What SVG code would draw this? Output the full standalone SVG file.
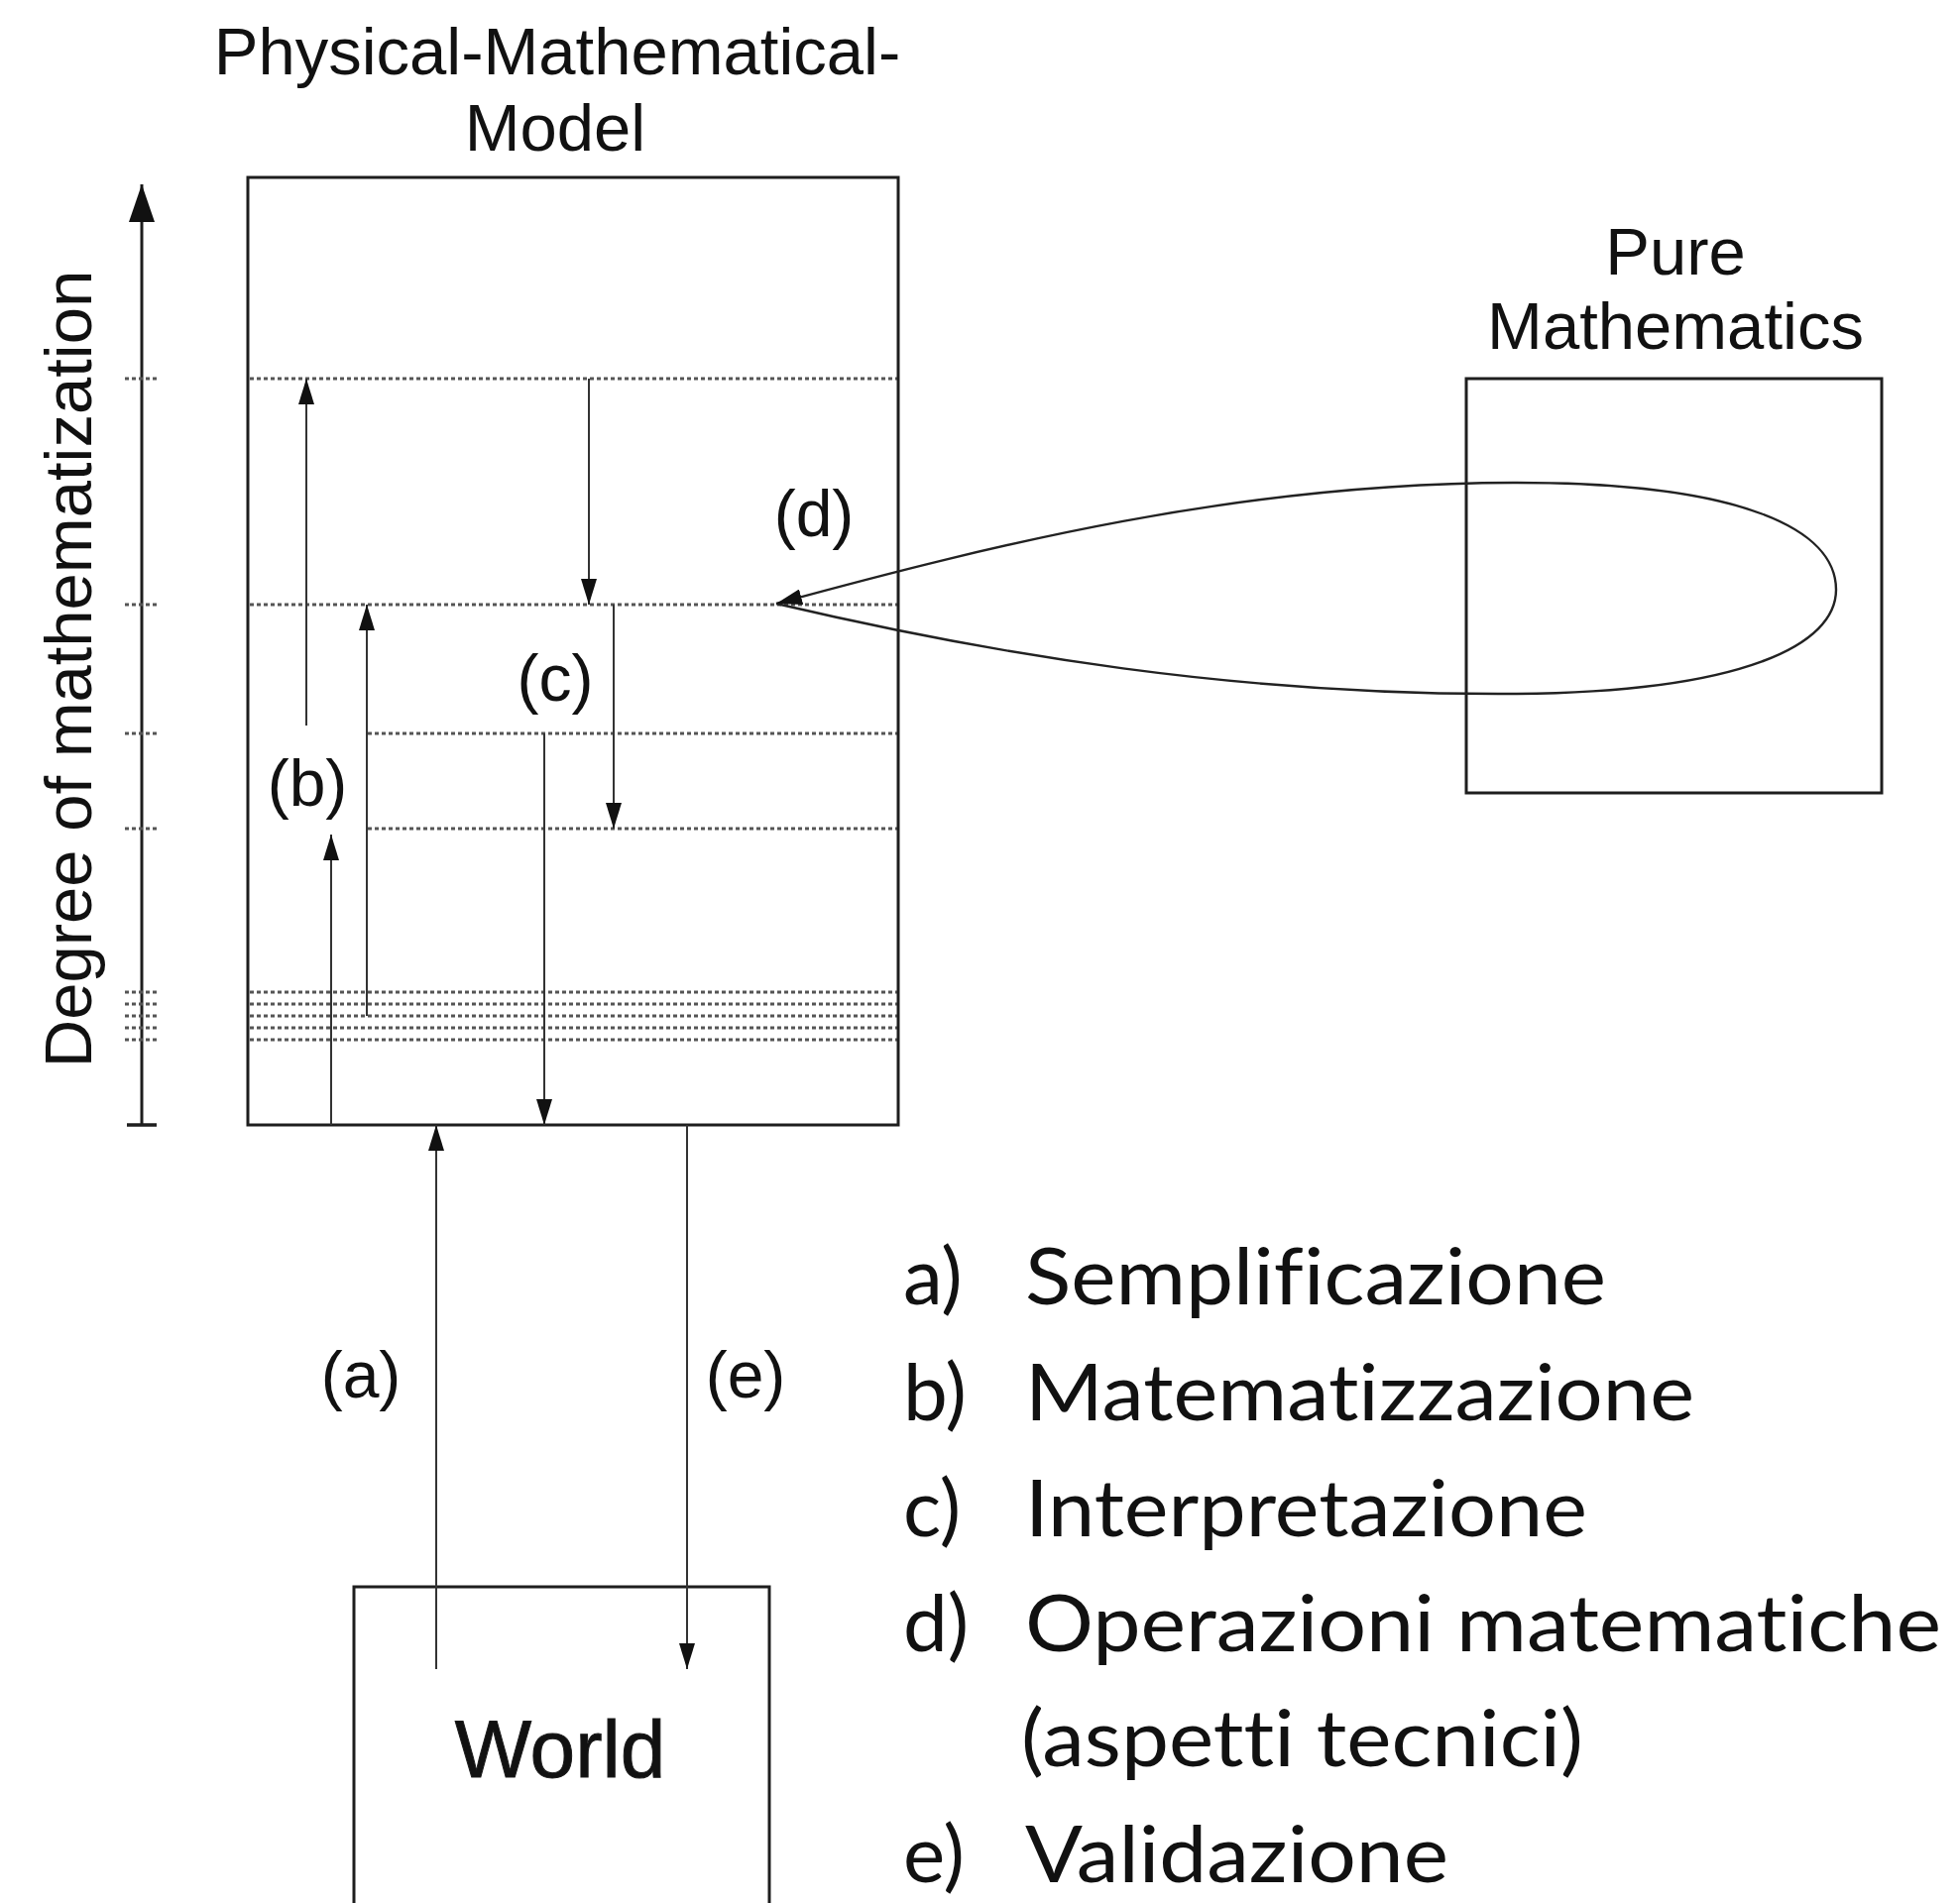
<svg xmlns="http://www.w3.org/2000/svg" width="1977" height="1920" viewBox="0 0 1977 1920">
<style>
.box{fill:none;stroke:#1e1e1e;stroke-width:3}
.lbl{font-family:"Liberation Sans",Arial,sans-serif;fill:#111;text-anchor:middle}
.dot{stroke:#555;stroke-width:3;stroke-dasharray:4 3;fill:none}
.arr{stroke:#333;stroke-width:2;fill:none;marker-end:url(#ah)}
.leg{font-family:Lato,"Noto Sans",sans-serif;font-size:80px;fill:#111;font-variant-ligatures:none}
</style>
<defs>
<marker id="ah" viewBox="0 0 26 16" refX="26" refY="8" markerWidth="26" markerHeight="16" markerUnits="userSpaceOnUse" orient="auto"><path d="M0,0 L26,8 L0,16 z" fill="#111"/></marker>
<marker id="ahBig" viewBox="0 0 38 26" refX="38" refY="13" markerWidth="38" markerHeight="26" markerUnits="userSpaceOnUse" orient="auto"><path d="M0,0 L38,13 L0,26 z" fill="#111"/></marker>
<marker id="ahD" viewBox="0 0 26 16" refX="26" refY="8" markerWidth="26" markerHeight="16" markerUnits="userSpaceOnUse" orient="auto"><path d="M0,0 L26,8 L0,16 z" fill="#111"/></marker>
</defs>
<rect width="1977" height="1920" fill="#fff"/>

<g id="axis">
<line x1="143" y1="1135" x2="143" y2="186" stroke="#1e1e1e" stroke-width="3" marker-end="url(#ahBig)"/>
<line x1="128" y1="1135" x2="158" y2="1135" stroke="#1e1e1e" stroke-width="3.5"/>
<text class="lbl" font-size="67" transform="translate(92,675) rotate(-90)">Degree of mathematization</text>
</g>

<g id="levels">
<path class="dot" d="M126,382H160M126,610H160M126,740H160M126,836H160M126,1001H160M126,1013H160M126,1025H160M126,1037H160M126,1049H160"/>
<path class="dot" d="M252,382H905M252,610H905M252,740H905M252,836H905M252,1001H905M252,1013H905M252,1025H905M252,1037H905M252,1049H905"/>
</g>

<g id="pmm">
<rect class="box" x="250" y="179" width="656" height="956"/>
<text class="lbl" font-size="67" x="562" y="75">Physical-Mathematical-</text>
<text class="lbl" font-size="67" x="560" y="152">Model</text>
</g>

<g id="pure-math">
<rect class="box" x="1479" y="382" width="419" height="418"/>
<text class="lbl" font-size="67" x="1690" y="277">Pure</text>
<text class="lbl" font-size="67" x="1690" y="352">Mathematics</text>
</g>

<g id="world">
<rect class="box" x="357" y="1601" width="419" height="400"/>
<text class="lbl" font-size="82" x="565" y="1793" fill="#1a1a1a" stroke="#1a1a1a" stroke-width="1">World</text>
</g>

<g id="connectors">
<line class="arr" x1="309" y1="732" x2="309" y2="382"/>
<line class="arr" x1="334" y1="1135" x2="334" y2="842"/>
<line class="arr" x1="370" y1="1025" x2="370" y2="610"/>
<line class="arr" x1="594" y1="382" x2="594" y2="610"/>
<line class="arr" x1="619" y1="610" x2="619" y2="836"/>
<line class="arr" x1="549" y1="740" x2="549" y2="1135"/>
<line class="arr" x1="440" y1="1684" x2="440" y2="1135"/>
<line class="arr" x1="693" y1="1135" x2="693" y2="1684"/>
<path d="M783,609 C1000,660 1250,702 1530,700 C1760,698 1852,650 1852,595 C1852,535 1760,487 1530,487 C1250,487 1000,550 783,609" fill="none" stroke="#222" stroke-width="2.4" marker-end="url(#ahD)"/>
</g>

<g id="b-label">
<rect x="252" y="732" width="116" height="106" fill="#fff"/>
<text class="lbl" font-size="66" x="310" y="813">(b)</text>
</g>
<g id="labels">
<text class="lbl" font-size="66" x="560" y="707">(c)</text>
<text class="lbl" font-size="66" x="821" y="541">(d)</text>
<text class="lbl" font-size="66" x="364" y="1410">(a)</text>
<text class="lbl" font-size="66" x="752" y="1410">(e)</text>
</g>

<g id="legend">
<text class="leg" x="911" y="1316">a)</text><text class="leg" x="1034" y="1316" textLength="586" lengthAdjust="spacingAndGlyphs">Semplificazione</text>
<text class="leg" x="911" y="1433">b)</text><text class="leg" x="1034" y="1433" textLength="675" lengthAdjust="spacingAndGlyphs">Matematizzazione</text>
<text class="leg" x="911" y="1550">c)</text><text class="leg" x="1034" y="1550" textLength="567" lengthAdjust="spacingAndGlyphs">Interpretazione</text>
<text class="leg" x="911" y="1666">d)</text><text class="leg" x="1034" y="1666" textLength="924" lengthAdjust="spacingAndGlyphs">Operazioni matematiche</text>
<text class="leg" x="1030" y="1782" textLength="567" lengthAdjust="spacingAndGlyphs">(aspetti tecnici)</text>
<text class="leg" x="911" y="1899">e)</text><text class="leg" x="1034" y="1899" textLength="427" lengthAdjust="spacingAndGlyphs">Validazione</text>
</g>
</svg>
